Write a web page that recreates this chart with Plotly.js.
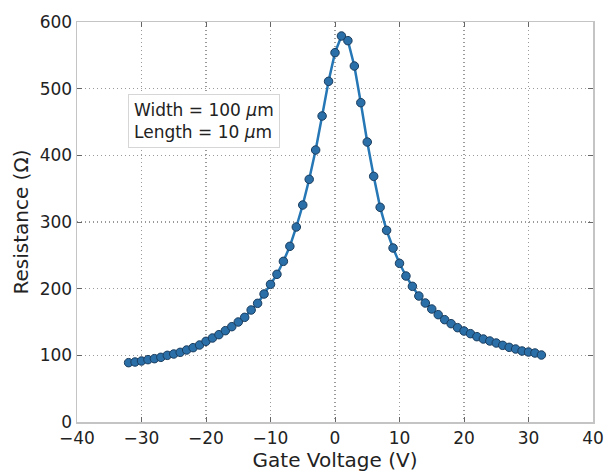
<!DOCTYPE html>
<html>
<head>
<meta charset="utf-8">
<script src="https://cdn.plot.ly/plotly-3.0.1.min.js"></script>
<style>html,body{margin:0;padding:0;background:#fff;}#chart{width:608px;height:473px;}</style>
</head>
<body>
<div id="chart"></div>
<script>
const gateVoltage = [-32,-31,-30,-29,-28,-27,-26,-25,-24,-23,-22,-21,-20,-19,-18,-17,-16,-15,-14,-13,-12,-11,-10,-9,-8,-7,-6,-5,-4,-3,-2,-1,0,1,2,3,4,5,6,7,8,9,10,11,12,13,14,15,16,17,18,19,20,21,22,23,24,25,26,27,28,29,30,31,32];
const resistance = [89,90,91.5,93.5,95,97,100,102,104.5,108,111.5,115.5,121,126,131,137,143,150,157,168,178,192,206.5,221.5,241,263.5,292.5,325.5,364,408,459,511,554,579,572,534,479,420,368.5,322,287.5,261,238,219,203.5,189,178.5,169.5,161,153.5,147.5,141.5,136.5,132.5,128,124.5,121.5,118.5,115,112,109.5,106.5,105,103.5,100.5];
const xTicks = [-40,-30,-20,-10,0,10,20,30,40];
const yTicks = [0,100,200,300,400,500,600];
const labelText = "Width = 100 <i>μ</i>m<br>Length = 10 <i>μ</i>m";

const trace = {
  x: gateVoltage, y: resistance, type: 'scatter', mode: 'lines+markers',
  line: {color: '#2577b5', width: 2.5},
  marker: {symbol: 'circle', size: 8.5, color: '#2a6fa8', line: {color: '#1b3d5e', width: 1}},
  hoverinfo: 'skip'
};
const axisCommon = {
  showline: true, mirror: 'ticks', linecolor: '#c4c4c4', linewidth: 1.5,
  ticks: 'inside', ticklen: 5, tickcolor: '#666', tickwidth: 1,
  showgrid: true, gridcolor: '#9a9a9a', griddash: '1px,3px', gridwidth: 1.2,
  zeroline: false, tickfont: {family: 'DejaVu Sans', size: 17, color: '#222'}
};
const layout = {
  width: 608, height: 473,
  margin: {l: 77, r: 15, t: 22, b: 51},
  paper_bgcolor: '#fff', plot_bgcolor: '#fff',
  showlegend: false,
  xaxis: Object.assign({}, axisCommon, {
    range: [-40, 40], tickvals: xTicks, ticktext: xTicks.map(v => v < 0 ? '\u2212' + Math.abs(v) : String(v)),
    title: {text: 'Gate Voltage (V)', font: {family: 'DejaVu Sans', size: 20, color: '#222'}, standoff: 4}
  }),
  yaxis: Object.assign({}, axisCommon, {
    range: [0, 600], tickvals: yTicks,
    title: {text: 'Resistance (Ω)', font: {family: 'DejaVu Sans', size: 20, color: '#222'}, standoff: 5}
  }),
  annotations: [{
    xref: 'paper', yref: 'paper', x: 0.099, y: 0.82, xanchor: 'left', yanchor: 'top',
    text: labelText, showarrow: false, align: 'left',
    font: {family: 'DejaVu Sans', size: 17, color: '#222'},
    bgcolor: '#fff', bordercolor: '#d6d6d6', borderwidth: 1, borderpad: 5
  }]
};
Plotly.newPlot('chart', [trace], layout, {displayModeBar: false, staticPlot: true});
</script>
</body>
</html>
